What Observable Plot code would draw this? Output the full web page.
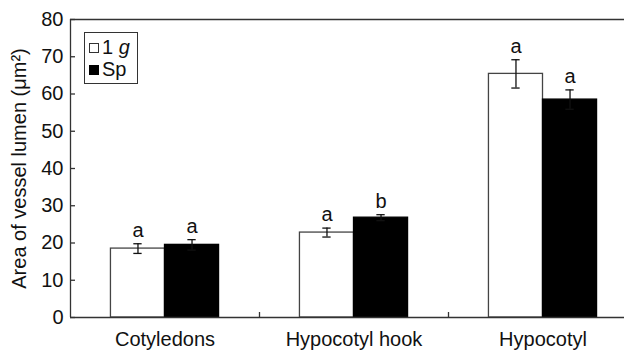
<!DOCTYPE html>
<html>
<head>
<meta charset="utf-8">
<script src="https://cdn.jsdelivr.net/npm/d3@7"></script>
<script src="https://cdn.jsdelivr.net/npm/@observablehq/plot@0.6"></script>
<style>
  html, body { margin: 0; padding: 0; background: #fff; overflow: hidden; }
  #wrap { position: relative; width: 624px; height: 350px; }
  #legend { position: absolute; left: 84px; top: 32px; width: 52px; height: 50px;
    border: 1px solid #333; background: #fff; font: 20px "Liberation Sans", Arial, sans-serif; color: #111; }
  .row { position: absolute; left: 4px; height: 20px; line-height: 20px; white-space: nowrap; }
  .sw { display: inline-block; width: 8px; height: 8px; border: 1px solid #333; margin-right: 3px; vertical-align: 1px; }
</style>
</head>
<body>
<div id="wrap"></div>
<script>
const groups = ["Cotyledons", "Hypocotyl hook", "Hypocotyl"];
const series = ["1g", "Sp"];
const mean1g = [18.5, 22.8, 65.4];
const se1g = [1.3, 1.2, 3.8];
const meanSp = [19.5, 26.8, 58.5];
const seSp = [1.4, 0.8, 2.6];
const letters1g = ["a", "a", "a"];
const lettersSp = ["a", "b", "a"];
const yTicks = [0, 10, 20, 30, 40, 50, 60, 70, 80];

const barW = 0.286;   // bar width in group units
const cap = 0.022;    // error cap half width

const rows = [];
groups.forEach((g, i) => {
  rows.push({g, i, s: "1g", m: mean1g[i], e: se1g[i], l: letters1g[i], x1: i - barW, x2: i});
  rows.push({g, i, s: "Sp", m: meanSp[i], e: seSp[i], l: lettersSp[i], x1: i, x2: i + barW});
});
rows.forEach(d => { d.c = (d.x1 + d.x2) / 2; });

const plot = Plot.plot({
  width: 624,
  height: 350,
  marginLeft: 70,
  marginRight: 0,
  marginTop: 19,
  marginBottom: 33,
  style: {fontFamily: "'Liberation Sans', Arial, sans-serif", fontSize: "20px", color: "#111", background: "#fff"},
  x: {domain: [-0.5, 2.5], range: [70, 637]},
  y: {domain: [0, 80], range: [317, 19]},
  marks: [
    Plot.rectY(rows, {x1: "x1", x2: "x2", y1: 0, y2: "m",
      fill: d => d.s === "1g" ? "#fff" : "#000",
      stroke: d => d.s === "1g" ? "#444" : "#000", strokeWidth: 1.3}),
    Plot.ruleX(rows, {x: "c", y1: d => d.m - d.e, y2: d => d.m + d.e, stroke: "#111", strokeWidth: 1.3}),
    Plot.ruleY(rows, {y: d => d.m + d.e, x1: d => d.c - cap, x2: d => d.c + cap, stroke: "#111", strokeWidth: 1.3}),
    Plot.ruleY(rows, {y: d => d.m - d.e, x1: d => d.c - cap, x2: d => d.c + cap, stroke: "#111", strokeWidth: 1.3}),
    Plot.text(rows, {x: "c", y: d => d.m + d.e, text: "l", dy: -7, lineAnchor: "bottom", fontSize: 20, fill: "#111"}),
    Plot.ruleY([0, 80], {stroke: "#333", strokeWidth: 1.3}),
    Plot.ruleX([-0.5], {y1: 0, y2: 80, stroke: "#333", strokeWidth: 1.3}),
    Plot.axisY({ticks: yTicks, tickSize: 0, tickPadding: 7, label: null, stroke: "#333"}),
    Plot.axisY({ticks: yTicks, tickSize: -5, tickFormat: null, text: null, label: null, stroke: "#333", strokeWidth: 1.3}),
    Plot.axisY({ticks: [], label: "Area of vessel lumen (μm²)", labelAnchor: "center", labelOffset: 59, labelArrow: false}),
    Plot.axisX({ticks: [0, 1, 2], tickSize: 0, tickPadding: 14, tickFormat: i => groups[i], label: null}),
    Plot.axisX({ticks: [0.5, 1.5], tickSize: -5, tickFormat: null, text: null, label: null, stroke: "#333", strokeWidth: 1.3})
  ]
});
document.getElementById("wrap").appendChild(plot);

const legend = document.createElement("div");
legend.id = "legend";
legend.innerHTML =
  '<div class="row" style="top:4px"><span class="sw" style="background:#fff"></span>1 <i>g</i></div>' +
  '<div class="row" style="top:26px"><span class="sw" style="background:#000;border-color:#000"></span>Sp</div>';
document.getElementById("wrap").appendChild(legend);
</script>
</body>
</html>
